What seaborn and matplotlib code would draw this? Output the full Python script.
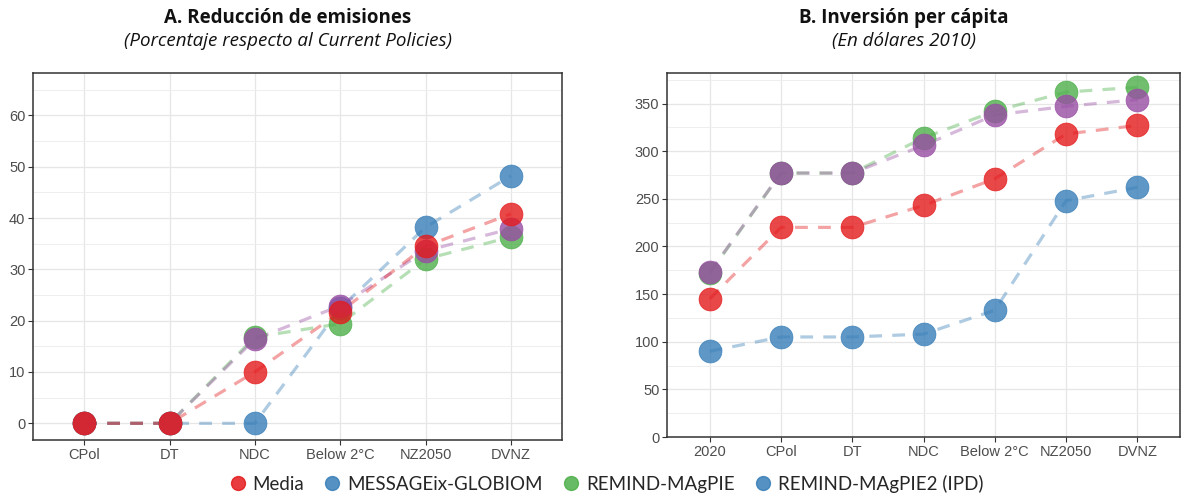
import matplotlib
matplotlib.use("Agg")
import matplotlib.pyplot as plt
from matplotlib.lines import Line2D
from matplotlib.ticker import MultipleLocator
import seaborn as sns
import pandas as pd

# ---- data -------------------------------------------------------------
series = ["MESSAGEix-GLOBIOM", "REMIND-MAgPIE", "REMIND-MAgPIE2 (IPD)", "Media"]

scen_a = ["CPol", "DT", "NDC", "Below 2°C", "NZ2050", "DVNZ"]
media_a = [0, 0, 10.0, 21.7, 34.5, 40.8]
message_a = [0, 0, 0, 22.4, 38.2, 48.2]
remind_a = [0, 0, 16.8, 19.4, 32.0, 36.3]
remind2_a = [0, 0, 16.4, 22.9, 33.6, 37.9]

scen_b = ["2020", "CPol", "DT", "NDC", "Below 2°C", "NZ2050", "DVNZ"]
media_b = [145, 220, 220, 243, 271, 318, 327]
message_b = [90, 105, 105, 108, 133, 248, 262]
remind_b = [172, 277, 277, 314, 342, 362, 367]
remind2_b = [173, 277, 277, 306, 338, 347, 354]

legend_labels = ["Media", "MESSAGEix-GLOBIOM", "REMIND-MAgPIE", "REMIND-MAgPIE2 (IPD)"]

palette = {
    "Media": "#E41A1C",
    "MESSAGEix-GLOBIOM": "#377EB8",
    "REMIND-MAgPIE": "#4DAF4A",
    "REMIND-MAgPIE2 (IPD)": "#984EA3",
}
legend_colors = ["#E41A1C", "#377EB8", "#4DAF4A", "#377EB8"]


def long_frame(scen, values):
    rows = []
    for name, vals in zip(series, values):
        for i, (s, v) in enumerate(zip(scen, vals)):
            rows.append({"serie": name, "escenario": s, "pos": i, "valor": v})
    return pd.DataFrame(rows)


df_a = long_frame(scen_a, [message_a, remind_a, remind2_a, media_a])
df_b = long_frame(scen_b, [message_b, remind_b, remind2_b, media_b])

# ---- style ------------------------------------------------------------
sns.set_theme(style="white")
plt.rcParams["font.family"] = ["Liberation Sans", "DejaVu Sans"]

fig = plt.figure(figsize=(11.83, 4.97), dpi=100)
ax_a = fig.add_axes([0.0279, 0.1147, 0.4472, 0.7384])
ax_b = fig.add_axes([0.5638, 0.1207, 0.4337, 0.7324])

title_font = ["Open Sans", "DejaVu Sans"]
legend_font = ["Lato", "DejaVu Sans"]


def draw_panel(ax, df, scen, ylim, ystep):
    for name in series:
        sub = df[df["serie"] == name]
        sns.lineplot(data=sub, x="pos", y="valor", ax=ax, color=palette[name],
                     alpha=0.4, lw=2.3, dashes=False, legend=False,
                     linestyle=(0, (4, 3.2)), estimator=None, sort=False)
    for name in series:
        sub = df[df["serie"] == name]
        sns.scatterplot(data=sub, x="pos", y="valor", ax=ax, color=palette[name],
                        s=270, alpha=0.8, edgecolor=palette[name], linewidth=0.6,
                        legend=False, zorder=3)
    n = len(scen)
    ax.set_xlim(-0.6, n - 1 + 0.6)
    ax.set_ylim(*ylim)
    ax.set_xticks(range(n))
    ax.set_xticklabels(scen)
    ax.yaxis.set_major_locator(MultipleLocator(ystep))
    ax.yaxis.set_minor_locator(MultipleLocator(ystep / 2))
    ax.grid(True, which="major", color="#E6E6E6", lw=0.9)
    ax.grid(True, which="minor", axis="y", color="#EEEEEE", lw=0.7)
    ax.set_axisbelow(True)
    ax.set_xlabel("")
    ax.set_ylabel("")
    for sp in ax.spines.values():
        sp.set_color("#333333")
        sp.set_linewidth(1.1)
    ax.tick_params(axis="both", which="major", length=3.5, width=0.8,
                   color="#333333", labelsize=10.5, labelcolor="#4D4D4D", pad=2,
                   bottom=True, left=True)
    ax.tick_params(axis="both", which="minor", length=0)


draw_panel(ax_a, df_a, scen_a, (-3.25, 68.25), 10)
draw_panel(ax_b, df_b, scen_b, (0, 382), 50)

# ---- titles -----------------------------------------------------------
fig.text(0.2435, 0.963, "A. Reducción de emisiones", ha="center", va="center",
         fontsize=13.5, fontweight="bold", family=title_font, color="#111111")
fig.text(0.2435, 0.917, "(Porcentaje respecto al Current Policies)", ha="center",
         va="center", fontsize=13.5, style="italic", family=title_font, color="#111111")
fig.text(0.764, 0.963, "B. Inversión per cápita", ha="center", va="center",
         fontsize=13.5, fontweight="bold", family=title_font, color="#111111")
fig.text(0.764, 0.917, "(En dólares 2010)", ha="center", va="center",
         fontsize=13.5, style="italic", family=title_font, color="#111111")

# ---- legend -----------------------------------------------------------
handles = [Line2D([0], [0], marker="o", color="none", markerfacecolor=c,
                  markeredgecolor=c, alpha=0.85, markersize=10)
           for c in legend_colors]
fig.legend(handles, legend_labels, loc="center", bbox_to_anchor=(0.512, 0.027),
           ncol=4, frameon=False, handletextpad=0.3, columnspacing=1.0,
           handlelength=1.0, prop={"family": legend_font, "size": 13.5})

fig.savefig("out.png", dpi=100)
